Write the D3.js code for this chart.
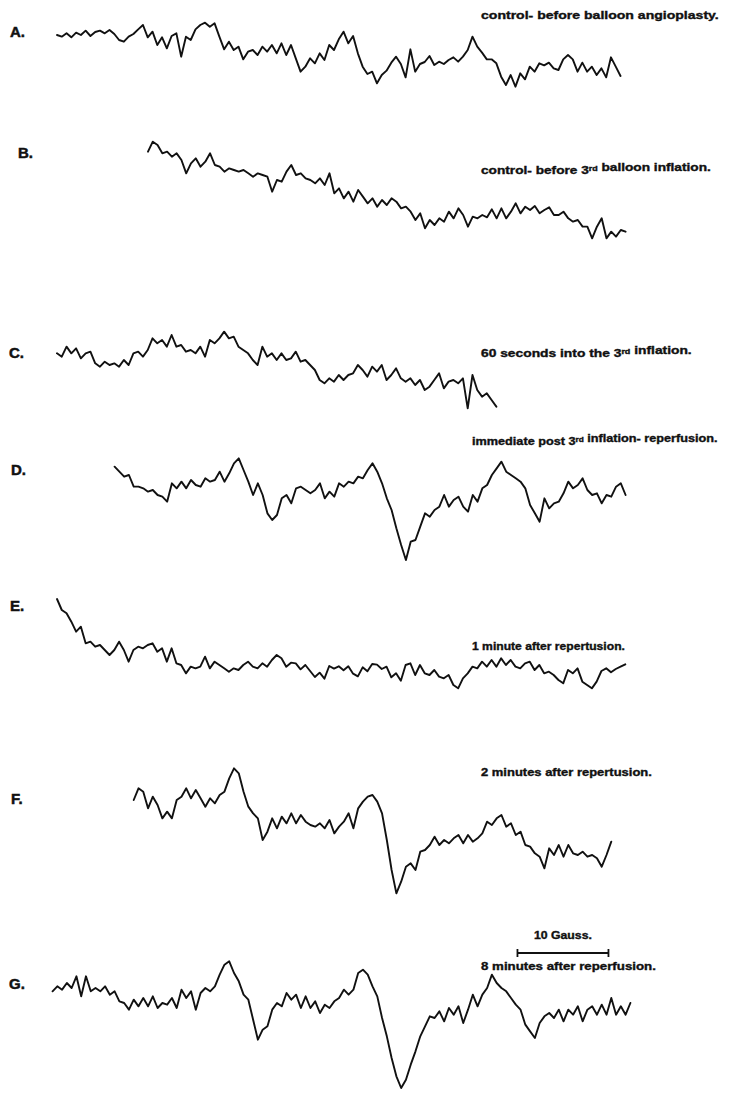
<!DOCTYPE html>
<html><head><meta charset="utf-8">
<script src="https://cdn.jsdelivr.net/npm/d3@7"></script>
<style>body{margin:0;background:#fff}svg{display:block}</style>
</head><body>
<svg id="c" width="745" height="1094"></svg>
<script>
// ---------------- DATA ----------------
const panelLabels = ["A.", "B.", "C.", "D.", "E.", "F.", "G."];
const captions = [
  "control- before balloon angioplasty.",
  "control- before 3^rd balloon inflation.",
  "60 seconds into the 3^rd inflation.",
  "immediate post 3^rd inflation- reperfusion.",
  "1 minute after repertusion.",
  "2 minutes after repertusion.",
  "8 minutes after reperfusion."
];
// field (Gauss) of first sample of each trace, sample spacing in Gauss
const fieldStart = [0, 10.0, 0, 6.33, 0, 8.43, -0.49];
const fieldStep = 0.5248;
// EPR first-derivative signal, arbitrary units
const traceA = [-105,-110,-100,-112,-98,-105,-92,-108,-96,-92,-100,-90,-102,-120,-125,-110,-102,-88,-75,-112,-95,-135,-112,-145,-108,-100,-170,-110,-120,-88,-75,-68,-80,-70,-110,-148,-125,-150,-140,-178,-155,-150,-165,-140,-155,-135,-160,-130,-165,-135,-175,-215,-200,-175,-190,-160,-180,-135,-150,-118,-95,-130,-108,-160,-200,-222,-215,-250,-225,-212,-188,-170,-192,-232,-148,-215,-192,-186,-168,-195,-185,-192,-180,-172,-185,-170,-150,-110,-140,-158,-178,-178,-190,-230,-255,-225,-260,-220,-238,-200,-215,-190,-196,-188,-205,-210,-178,-165,-178,-215,-188,-215,-200,-225,-205,-232,-172,-200,-228];
const traceB = [-65,-35,-45,-70,-65,-80,-70,-90,-130,-100,-85,-110,-95,-70,-105,-110,-125,-115,-120,-125,-120,-130,-140,-130,-135,-140,-185,-150,-155,-125,-105,-135,-130,-145,-150,-160,-145,-165,-130,-190,-175,-205,-185,-215,-180,-200,-220,-205,-230,-210,-225,-205,-215,-235,-230,-245,-270,-250,-295,-270,-285,-265,-275,-245,-265,-235,-255,-290,-260,-265,-255,-262,-238,-265,-235,-265,-245,-220,-250,-230,-240,-228,-250,-240,-232,-255,-255,-245,-265,-275,-270,-290,-290,-325,-290,-265,-325,-305,-320,-300,-305];
const traceC = [-100,-110,-80,-100,-85,-115,-100,-95,-130,-140,-125,-135,-130,-140,-120,-135,-100,-95,-110,-90,-55,-70,-60,-80,-45,-80,-75,-95,-90,-100,-80,-110,-60,-70,-55,-35,-55,-50,-80,-90,-100,-120,-135,-80,-110,-100,-120,-100,-120,-115,-95,-125,-120,-135,-150,-180,-190,-175,-185,-165,-180,-165,-160,-135,-150,-170,-140,-155,-135,-180,-165,-145,-175,-185,-175,-195,-180,-210,-200,-180,-160,-205,-185,-180,-190,-175,-265,-165,-210,-230,-220,-240,-260];
const traceD = [-65,-80,-95,-90,-125,-125,-130,-140,-135,-150,-155,-170,-115,-130,-110,-130,-105,-120,-125,-100,-110,-105,-80,-110,-85,-55,-40,-75,-110,-150,-115,-150,-205,-225,-210,-160,-150,-175,-130,-125,-135,-145,-135,-115,-160,-140,-155,-115,-125,-110,-115,-95,-100,-75,-55,-80,-115,-160,-195,-250,-300,-345,-290,-285,-245,-205,-215,-195,-185,-150,-185,-165,-155,-185,-200,-150,-170,-130,-120,-90,-70,-50,-80,-90,-100,-110,-130,-180,-205,-230,-160,-190,-175,-170,-145,-110,-130,-120,-100,-135,-150,-145,-175,-150,-155,-125,-115,-150];
const traceE = [-42,-75,-85,-110,-140,-125,-175,-170,-185,-180,-195,-210,-195,-170,-195,-230,-195,-185,-190,-180,-175,-200,-190,-230,-190,-235,-240,-265,-245,-250,-245,-215,-250,-230,-240,-250,-260,-250,-255,-240,-230,-245,-250,-235,-245,-225,-210,-220,-245,-233,-235,-253,-240,-258,-276,-263,-281,-243,-251,-244,-256,-244,-266,-274,-247,-259,-237,-239,-252,-245,-277,-265,-287,-240,-235,-270,-240,-265,-270,-255,-275,-280,-270,-300,-310,-280,-265,-245,-250,-230,-245,-225,-245,-220,-240,-225,-245,-250,-235,-230,-255,-240,-265,-260,-270,-285,-295,-255,-265,-250,-290,-300,-310,-290,-258,-250,-262,-252,-245,-238];
const traceF = [-135,-100,-110,-160,-125,-150,-190,-170,-190,-135,-125,-100,-130,-105,-130,-155,-130,-145,-120,-110,-70,-40,-55,-110,-155,-175,-190,-255,-230,-190,-220,-185,-205,-175,-205,-180,-200,-210,-215,-205,-220,-195,-235,-215,-200,-175,-220,-160,-140,-125,-120,-140,-175,-255,-345,-415,-380,-335,-325,-345,-290,-285,-270,-245,-270,-255,-265,-250,-240,-265,-240,-260,-250,-235,-200,-210,-190,-180,-215,-205,-240,-230,-270,-275,-295,-305,-340,-280,-300,-270,-305,-270,-295,-300,-290,-305,-300,-310,-335,-300,-260];
const traceG = [-250,-235,-245,-225,-240,-205,-265,-205,-250,-240,-250,-235,-260,-250,-280,-285,-305,-275,-295,-270,-295,-265,-300,-285,-290,-270,-300,-245,-270,-250,-305,-255,-240,-250,-235,-200,-170,-160,-195,-220,-260,-275,-335,-395,-365,-355,-305,-285,-295,-255,-275,-260,-300,-265,-300,-280,-315,-290,-300,-280,-270,-245,-260,-245,-195,-185,-200,-235,-265,-330,-385,-450,-505,-540,-515,-470,-430,-385,-355,-325,-330,-310,-340,-300,-320,-295,-345,-305,-260,-295,-260,-240,-200,-225,-240,-250,-270,-290,-305,-350,-370,-390,-345,-325,-315,-330,-305,-340,-305,-320,-295,-340,-305,-295,-320,-290,-320,-270,-320,-295,-320,-285];
const traces = [traceA, traceB, traceC, traceD, traceE, traceF, traceG];
const scaleBarLabel = "10 Gauss.";
const scaleBarGauss = 10;
const scaleBarStart = 50.6;

// ---------------- LAYOUT ----------------
const svg = d3.select("#c");
const panelTop = [0, 130, 320, 445, 585, 755, 908];
const labelPos = [[10, 37], [18, 158], [9, 358], [11, 475], [10, 611], [11, 804], [9, 989]];
const captionPos = [[481, 19, 238], [481, 174, 230], [481, 357, 211], [472, 445, 246], [472, 650, 153], [481, 776, 171], [481, 970, 175]];

const x = d3.scaleLinear().domain([0, 62]).range([57, 57 + 62 * 9.1]);
const font = "'Liberation Sans', Arial, Helvetica, sans-serif";
const ink = "#111";

traces.forEach((tr, i) => {
  const y = d3.scaleLinear().domain([0, -300]).range([panelTop[i], panelTop[i] + 100]);
  const line = d3.line()
    .x((d, j) => x(fieldStart[i] + j * fieldStep))
    .y(d => y(d))
    .curve(d3.curveLinear);
  svg.append("path")
    .datum(tr)
    .attr("d", line)
    .attr("fill", "none")
    .attr("stroke", ink)
    .attr("stroke-width", 1.9)
    .attr("stroke-linejoin", "round")
    .attr("stroke-linecap", "round");

  svg.append("text")
    .attr("x", labelPos[i][0]).attr("y", labelPos[i][1])
    .attr("font-family", font).attr("font-weight", "bold")
    .attr("font-size", 15).attr("fill", ink)
    .attr("stroke", ink).attr("stroke-width", 0.5)
    .text(panelLabels[i]);

  addCaption(captions[i], captionPos[i]);
});

function addCaption(str, pos) {
  const g = svg.append("g");
  const t = g.append("text")
    .attr("font-family", font).attr("font-weight", "bold")
    .attr("font-size", 10).attr("fill", ink)
    .attr("stroke", ink).attr("stroke-width", 0.35);
  str.split(/(\^\w+)/).forEach(part => {
    if (!part) return;
    if (part[0] === "^") {
      t.append("tspan").attr("font-size", 6.5).attr("dy", -3.5).text(part.slice(1));
      t.append("tspan").attr("dy", 3.5).text("");
    } else {
      t.append("tspan").text(part);
    }
  });
  const w = t.node().getComputedTextLength();
  g.attr("transform", `translate(${pos[0]},${pos[1]}) scale(${pos[2] / w},1)`);
}

// scale bar
const sbY = 953;
const x0 = x(scaleBarStart), x1 = x(scaleBarStart + scaleBarGauss);
const sb = svg.append("g").attr("stroke", ink).attr("stroke-width", 1.8);
sb.append("line").attr("x1", x0).attr("x2", x1).attr("y1", sbY).attr("y2", sbY);
sb.append("line").attr("x1", x0).attr("x2", x0).attr("y1", sbY - 4).attr("y2", sbY + 4);
sb.append("line").attr("x1", x1).attr("x2", x1).attr("y1", sbY - 4).attr("y2", sbY + 4);
addCaption(scaleBarLabel, [(x0 + x1) / 2 - 29, 939, 58]);
</script>
</body></html>
